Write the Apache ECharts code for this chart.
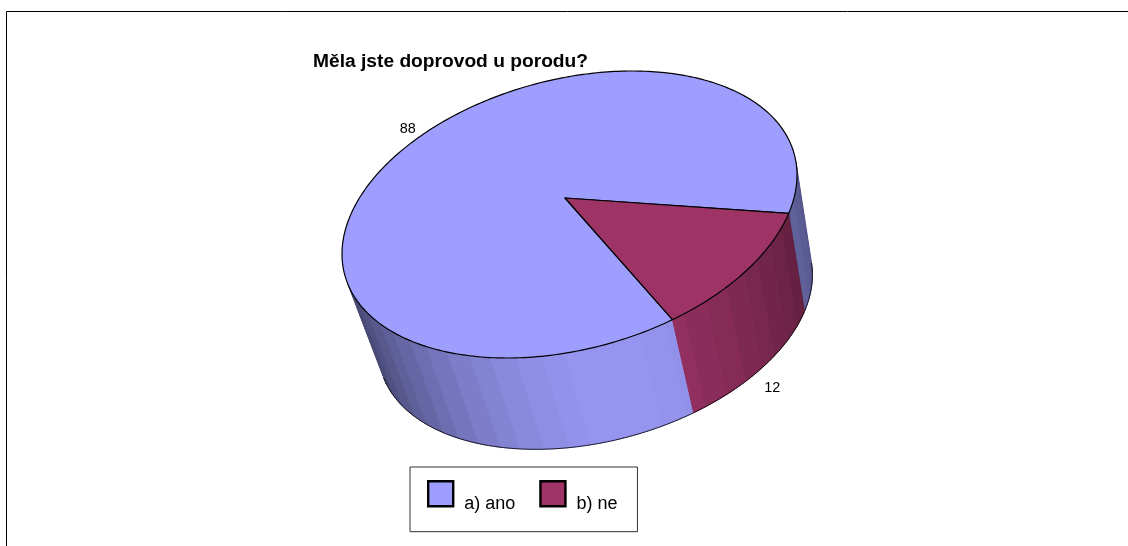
<!DOCTYPE html>
<html>
<head>
<meta charset="utf-8">
<style>html,body{margin:0;padding:0;background:#fff}#chart{width:1128px;height:546px}</style>
<script src="https://cdn.jsdelivr.net/npm/echarts@6/dist/echarts.min.js"></script>
</head>
<body>
<div id="chart"></div>
<script>
const categories = ['a) ano', 'b) ne'];
const values = [88, 12];
const sliceColors = ['#9E9EFF', '#9E3366'];
const titleText = 'Měla jste doprovod u porodu?';

// Perspective disc: outline ellipse of the top face, the projected hub,
// and the vanishing point of the wall edges.
const ellipse = { cx: 569.5, cy: 214.5, xm: 227.5, ym: 143.5, cosPhi: -0.275 };
ellipse.sinPhi = Math.sqrt(1 - ellipse.cosPhi * ellipse.cosPhi);
const hub = { x: 565, y: 198 };
const vanish = { x: 1130, y: 2330 };
const wallScale = 0.9537;
const startDeg = 65.2;
const bandDeg = 5.625;
const labelOffsets = [[-9, -10], [8, 22]];
// Wall brightness by disc angle: [degrees, factor].
const wallLight = [[-30, 0.46], [-5, 0.5], [22, 0.62], [65, 0.92], [75, 0.94], [90, 0.94], [102, 0.88], [114, 0.8], [128, 0.68], [155, 0.46], [330, 0.46]];

function toNormal(x, y) {
  const u = (x - ellipse.cx) / ellipse.xm;
  const v = ((y - ellipse.cy) / ellipse.ym - u * ellipse.cosPhi) / ellipse.sinPhi;
  return [u, v];
}
function toScreen(u, v) {
  return [
    ellipse.cx + ellipse.xm * u,
    ellipse.cy + ellipse.ym * (u * ellipse.cosPhi + v * ellipse.sinPhi)
  ];
}
const hubN = toNormal(hub.x, hub.y);
const hubLen = Math.hypot(hubN[0], hubN[1]);
const axisE = [hubN[0] / hubLen, hubN[1] / hubLen];
const vanishN = toNormal(vanish.x, vanish.y);

// Rim point for a true disc angle, moved by the projective map that takes the disc centre to the hub.
function rim(deg) {
  const t = deg * Math.PI / 180;
  const wx = Math.cos(t), wy = Math.sin(t);
  const a = wx * axisE[0] + wy * axisE[1];
  const b = -wx * axisE[1] + wy * axisE[0];
  const d = 1 + hubLen * a;
  const a2 = (a + hubLen) / d;
  const b2 = b * Math.sqrt(1 - hubLen * hubLen) / d;
  const u = a2 * axisE[0] - b2 * axisE[1];
  const v = a2 * axisE[1] + b2 * axisE[0];
  return { n: [u, v], p: toScreen(u, v) };
}
function lower(p) {
  return [vanish.x + wallScale * (p[0] - vanish.x), vanish.y + wallScale * (p[1] - vanish.y)];
}
function facesViewer(r) {
  return r.n[0] * vanishN[0] + r.n[1] * vanishN[1] > 1;
}
function wallShade(deg) {
  const d = ((deg + 30) % 360 + 360) % 360 - 30;
  for (let i = 1; i < wallLight.length; i++) {
    if (d <= wallLight[i][0]) {
      const p = wallLight[i - 1], q = wallLight[i];
      return p[1] + (q[1] - p[1]) * (d - p[0]) / (q[0] - p[0]);
    }
  }
  return wallLight[wallLight.length - 1][1];
}
function shaded(hex, k) {
  const n = parseInt(hex.slice(1), 16);
  const c = [(n >> 16) & 255, (n >> 8) & 255, n & 255].map(function (x) { return Math.round(x * k); });
  return 'rgb(' + c.join(',') + ')';
}

const total = values.reduce(function (s, x) { return s + x; }, 0);

function renderSlice(params, api) {
  const idx = params.seriesIndex;
  const before = values.slice(0, idx).reduce(function (s, x) { return s + x; }, 0);
  const from = startDeg + before / total * 360;
  const to = from + api.value(0) / total * 360;
  const mid = (from + to) / 2;
  const color = sliceColors[idx];
  const children = [];

  // Wall facets: one polygon per shading band, only where the outer face turns to the viewer.
  const n = Math.ceil(to - from);
  const runs = [];
  let run = [];
  let bandPts = [];
  let bandId = null;
  function flushBand() {
    if (bandPts.length > 1) {
      const fill = shaded(color, wallShade((bandId + 0.5) * bandDeg));
      const lows = bandPts.map(lower).reverse();
      children.push({
        type: 'polygon', silent: true,
        shape: { points: bandPts.concat(lows) },
        style: { fill: fill, stroke: fill, lineWidth: 1 }
      });
    }
    bandPts = [];
  }
  for (let i = 0; i < n; i++) {
    const d0 = from + (to - from) * i / n;
    const d1 = from + (to - from) * (i + 1) / n;
    const r0 = rim(d0), r1 = rim(d1);
    if (!facesViewer(rim((d0 + d1) / 2))) {
      flushBand();
      bandId = null;
      if (run.length) { runs.push(run); run = []; }
      continue;
    }
    const id = Math.floor(((d0 + d1) / 2) / bandDeg);
    if (id !== bandId) {
      flushBand();
      bandId = id;
      bandPts = [r0.p];
    }
    bandPts.push(r1.p);
    if (!run.length) run.push(lower(r0.p));
    run.push(lower(r1.p));
  }
  flushBand();
  if (run.length) runs.push(run);
  runs.forEach(function (pts) {
    children.push({
      type: 'polyline', silent: true,
      shape: { points: pts },
      style: { fill: null, stroke: '#000', lineWidth: 0.8 }
    });
  });

  // Top face of the slice.
  const top = [[hub.x, hub.y]];
  for (let i = 0; i <= n; i++) top.push(rim(from + (to - from) * i / n).p);
  children.push({
    type: 'polygon', silent: true,
    shape: { points: top },
    style: { fill: color, stroke: '#000', lineWidth: 1.2, lineJoin: 'round' }
  });

  // Value label beside the rim at the slice's middle angle.
  const anchor = rim(mid);
  const base = facesViewer(anchor) ? lower(anchor.p) : anchor.p;
  children.push({
    type: 'text', silent: true, z2: 10,
    style: {
      x: base[0] + labelOffsets[idx][0],
      y: base[1] + labelOffsets[idx][1],
      text: String(api.value(0)),
      fill: '#000',
      font: '14.4px "Liberation Sans", Arial, sans-serif',
      textAlign: 'center',
      textVerticalAlign: 'middle'
    }
  });
  return { type: 'group', children: children };
}

const chart = echarts.init(document.getElementById('chart'), null, { renderer: 'canvas' });
chart.setOption({
  animation: false,
  backgroundColor: '#fff',
  title: {
    text: titleText,
    left: 313,
    top: 52,
    padding: 0,
    textStyle: { fontFamily: '"Liberation Sans", Arial, sans-serif', fontWeight: 'bold', fontSize: 19.2, color: '#000' }
  },
  legend: {
    data: categories,
    left: 410,
    top: 467,
    orient: 'horizontal',
    padding: [13, 20, 19, 17],
    itemWidth: 25,
    itemHeight: 25,
    itemGap: 24,
    icon: 'rect',
    borderColor: '#333',
    borderWidth: 1,
    selectedMode: false,
    itemStyle: { borderColor: '#000', borderWidth: 2.4 },
    formatter: function (name) { return '{t|' + name + '}'; },
    textStyle: {
      fontFamily: '"Liberation Sans", Arial, sans-serif', fontSize: 18, color: '#000',
      rich: { t: { fontFamily: '"Liberation Sans", Arial, sans-serif', fontSize: 18, color: '#000', padding: [20, 0, 0, 6] } }
    }
  },
  graphic: [{
    type: 'polyline', silent: true,
    shape: { points: [[6.5, 546], [6.5, 11.5], [1128, 11.5]] },
    style: { fill: null, stroke: '#000', lineWidth: 1 }
  }],
  series: categories.map(function (name, i) {
    return {
      type: 'custom',
      name: name,
      coordinateSystem: 'none',
      silent: true,
      itemStyle: { color: sliceColors[i] },
      data: [[values[i]]],
      renderItem: renderSlice
    };
  })
});
</script>
</body>
</html>
